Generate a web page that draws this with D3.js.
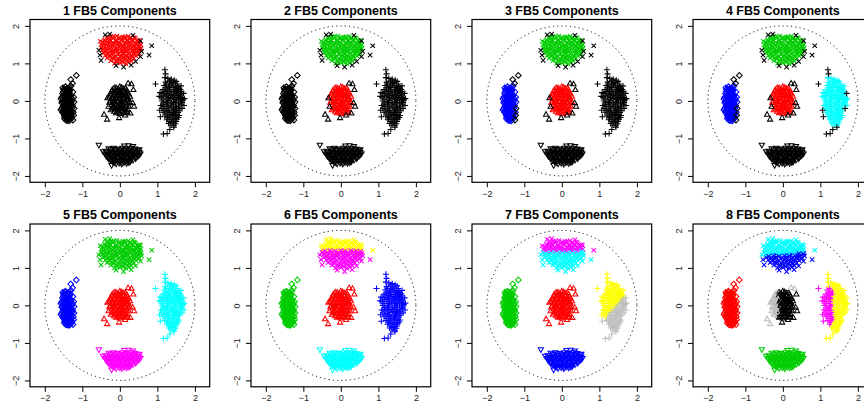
<!DOCTYPE html>
<html><head><meta charset="utf-8">
<script src="https://cdn.jsdelivr.net/npm/d3@7"></script>
<style>
html,body{margin:0;padding:0;background:#fff;}
svg{display:block;}
text{font-family:"Liberation Sans",Arial,Helvetica,sans-serif;}
</style></head>
<body><svg id="chart" width="864" height="411"></svg>
<script>
// ---------------- data ----------------
const panelTitles = ["1 FB5 Components","2 FB5 Components","3 FB5 Components","4 FB5 Components",
                     "5 FB5 Components","6 FB5 Components","7 FB5 Components","8 FB5 Components"];
const xTicks = [-2,-1,0,1,2];
const yTicks = [-2,-1,0,1,2];

// cluster order: left (diamond), center (triangle), top (x), right (+), bottom (inverted triangle)
const leftCoreA = [
[-1.52,0.35],[-1.45,0.38],[-1.38,0.33],[-1.48,0.28],[-1.40,0.25],[-1.33,0.27],[-1.53,0.20],[-1.45,0.18],[-1.37,0.20],[-1.30,0.15],
[-1.55,0.10],[-1.47,0.08],[-1.40,0.12],[-1.33,0.06],[-1.50,0.02],[-1.42,0.00],[-1.35,-0.02],[-1.28,0.00],[-1.55,-0.05],[-1.46,-0.08],
[-1.39,-0.06],[-1.31,-0.10],[-1.52,-0.15],[-1.43,-0.16],[-1.36,-0.14],[-1.27,-0.18],[-1.49,-0.22],[-1.41,-0.25],[-1.33,-0.23],[-1.53,-0.30],
[-1.45,-0.32],[-1.37,-0.30],[-1.29,-0.33],[-1.48,-0.38],[-1.40,-0.40],[-1.32,-0.39],[-1.44,-0.46],[-1.36,-0.48],[-1.28,-0.45],[-1.40,-0.52],
[-1.50,0.30],[-1.42,0.30],[-1.35,0.36],[-1.47,-0.42],[-1.34,-0.02],[-1.44,0.06],[-1.38,-0.20],[-1.50,-0.08],[-1.30,0.10]
];
const leftCoreB = [
[-1.49,0.32],[-1.41,0.34],[-1.34,0.31],[-1.51,0.24],[-1.43,0.22],[-1.35,0.23],[-1.50,0.15],[-1.41,0.16],[-1.33,0.14],[-1.27,0.05],
[-1.52,0.06],[-1.44,0.03],[-1.37,0.08],[-1.53,-0.02],[-1.45,-0.03],[-1.38,0.02],[-1.30,-0.05],[-1.50,-0.11],[-1.42,-0.11],[-1.34,-0.07],
[-1.26,-0.12],[-1.55,-0.20],[-1.46,-0.19],[-1.38,-0.17],[-1.30,-0.16],[-1.51,-0.26],[-1.44,-0.27],[-1.36,-0.25],[-1.29,-0.27],[-1.50,-0.34],
[-1.41,-0.35],[-1.33,-0.34],[-1.45,-0.40],[-1.37,-0.43],[-1.29,-0.40],[-1.48,-0.47],[-1.40,-0.46],[-1.32,-0.50],[-1.43,-0.52],[-1.35,-0.53],
[-1.23,0.10],[-1.22,-0.03],[-1.25,0.24],[-1.24,-0.30],[-1.57,0.05],[-1.57,-0.24],[-1.30,0.40]
];
const leftOut = [[-1.31,0.57],[-1.16,0.68],[-1.26,0.47],[-1.22,-0.20],[-1.23,-0.38],[-1.25,-0.51]];

const centerCoreA = [
[-0.20,0.30],[-0.10,0.35],[0.00,0.38],[0.10,0.33],[0.18,0.30],[-0.25,0.20],[-0.15,0.22],[-0.05,0.25],[0.05,0.20],[0.15,0.23],
[0.24,0.18],[-0.28,0.10],[-0.18,0.12],[-0.08,0.10],[0.02,0.13],[0.12,0.10],[0.22,0.08],[-0.25,0.00],[-0.15,0.02],[-0.05,-0.02],
[0.05,0.03],[0.15,0.00],[0.26,-0.02],[-0.22,-0.10],[-0.12,-0.08],[-0.02,-0.12],[0.08,-0.08],[0.18,-0.12],[-0.20,-0.20],[-0.10,-0.22],
[0.00,-0.18],[0.10,-0.20],[0.20,-0.22],[-0.15,-0.28],[-0.05,-0.30],[0.05,-0.27],[0.14,-0.30],[0.00,-0.05],[-0.10,0.05],[0.10,0.15],
[0.00,0.28],[-0.20,-0.05],[0.20,0.03],[0.06,-0.14],[-0.06,0.18]
];
const centerCoreB = [
[-0.15,0.35],[-0.05,0.32],[0.05,0.36],[0.15,0.34],[-0.22,0.25],[-0.10,0.28],[0.00,0.22],[0.10,0.26],[0.20,0.24],
[-0.24,0.15],[-0.13,0.17],[-0.03,0.15],[0.07,0.16],[0.17,0.14],[0.27,0.12],[-0.20,0.06],[-0.10,0.08],[0.00,0.06],[0.10,0.05],[0.20,0.10],
[-0.28,-0.04],[-0.16,-0.03],[-0.06,0.00],[0.04,-0.02],[0.13,-0.04],[0.23,-0.06],[-0.18,-0.14],[-0.07,-0.15],[0.03,-0.10],[0.13,-0.15],[0.24,-0.15],
[-0.24,-0.24],[-0.14,-0.18],[-0.04,-0.24],[0.06,-0.22],[0.16,-0.25],[-0.10,-0.32],[0.00,-0.34],[0.10,-0.32],[0.20,-0.30]
];
const centerOut = [[-0.42,-0.36],[-0.34,-0.49],[-0.02,-0.45],[0.22,0.47],[0.31,0.45],[0.36,0.30],[0.38,-0.15],[0.34,-0.05],
[-0.33,0.08],[-0.30,-0.15],[0.28,-0.33],[0.14,-0.38]];

const topCoreA = [
[-0.30,1.70],[-0.16,1.72],[0.01,1.69],[0.14,1.71],[0.29,1.68],
[-0.41,1.63],[-0.26,1.64],[-0.11,1.62],[0.06,1.65],[0.19,1.62],[0.34,1.64],[0.46,1.61],
[-0.46,1.56],[-0.31,1.57],[-0.19,1.55],[-0.02,1.57],[0.13,1.55],[0.26,1.57],[0.41,1.55],[0.52,1.54],
[-0.49,1.49],[-0.34,1.50],[-0.21,1.48],[-0.05,1.50],[0.09,1.48],[0.23,1.50],[0.37,1.48],[0.50,1.47],
[-0.50,1.42],[-0.36,1.41],[-0.24,1.43],[-0.08,1.41],[0.06,1.43],[0.18,1.41],[0.34,1.43],[0.46,1.41],[0.56,1.40],
[-0.47,1.35],[-0.35,1.36],[-0.19,1.34],[-0.07,1.36],[0.09,1.34],[0.21,1.36],[0.37,1.34],[0.49,1.35],
[-0.44,1.28],[-0.30,1.27],[-0.18,1.29],[-0.02,1.27],[0.10,1.29],[0.26,1.27],[0.38,1.29],[0.51,1.27],
[-0.39,1.21],[-0.27,1.22],[-0.11,1.20],[0.03,1.22],[0.15,1.20],[0.31,1.22],[0.43,1.20],
[-0.34,1.14],[-0.21,1.15],[-0.04,1.13],[0.09,1.15],[0.26,1.13],[0.37,1.14],
[-0.24,1.07],[-0.09,1.08],[0.06,1.06],[0.19,1.08],[0.31,1.06],
[-0.14,1.00],[0.01,1.01],[0.16,0.99]
];
const topCoreB = [
[-0.23,1.71],[-0.08,1.73],[0.08,1.70],[0.22,1.72],[0.38,1.69],
[-0.34,1.66],[-0.18,1.67],[-0.03,1.66],[0.12,1.67],[0.27,1.66],[0.41,1.67],[0.52,1.62],
[-0.52,1.59],[-0.38,1.60],[-0.25,1.60],[-0.10,1.59],[0.05,1.61],[0.20,1.59],[0.33,1.60],[0.47,1.58],
[-0.42,1.52],[-0.27,1.53],[-0.13,1.53],[0.02,1.52],[0.16,1.53],[0.30,1.52],[0.44,1.51],[0.56,1.50],
[-0.43,1.45],[-0.29,1.46],[-0.15,1.45],[0.00,1.46],[0.12,1.45],[0.27,1.46],[0.41,1.45],[0.53,1.44],
[-0.43,1.38],[-0.28,1.39],[-0.13,1.38],[0.02,1.39],[0.15,1.38],[0.29,1.39],[0.43,1.38],[0.55,1.37],
[-0.38,1.31],[-0.25,1.32],[-0.10,1.31],[0.04,1.32],[0.18,1.31],[0.32,1.32],[0.45,1.31],
[-0.34,1.24],[-0.20,1.25],[-0.05,1.24],[0.09,1.25],[0.23,1.24],[0.37,1.25],[0.49,1.23],
[-0.28,1.18],[-0.15,1.17],[0.00,1.18],[0.12,1.17],[0.22,1.17],[0.34,1.18],
[-0.17,1.11],[-0.02,1.10],[0.13,1.11],[0.27,1.10],
[-0.06,1.04],[0.08,1.03],[0.24,1.02]
];
const topOut = [[0.85,1.47],[0.78,1.22],[-0.56,1.35],[-0.53,1.22],[-0.50,1.08],[-0.39,1.76],[-0.27,1.78],[0.35,1.75],
[0.55,1.60],[0.58,1.32],[0.55,1.18],[0.30,0.95],[0.10,0.90],[-0.10,0.94],[0.42,1.05]];

const rightCoreA = [
[1.28,0.60],[1.37,0.58],
[1.22,0.50],[1.33,0.51],[1.42,0.49],[1.50,0.52],
[1.18,0.41],[1.29,0.39],[1.37,0.42],[1.48,0.40],[1.55,0.38],
[1.15,0.30],[1.26,0.31],[1.34,0.29],[1.46,0.31],[1.54,0.28],[1.61,0.30],
[1.12,0.20],[1.23,0.21],[1.31,0.19],[1.43,0.21],[1.51,0.19],[1.60,0.21],
[1.10,0.10],[1.21,0.11],[1.30,0.09],[1.41,0.11],[1.49,0.09],[1.60,0.11],[1.66,0.09],
[1.12,0.00],[1.23,-0.01],[1.31,0.01],[1.43,-0.01],[1.51,0.01],[1.62,-0.01],[1.68,0.02],
[1.15,-0.10],[1.24,-0.09],[1.36,-0.11],[1.44,-0.09],[1.56,-0.11],[1.64,-0.09],
[1.12,-0.20],[1.23,-0.21],[1.31,-0.19],[1.43,-0.21],[1.51,-0.19],[1.60,-0.21],
[1.15,-0.30],[1.26,-0.29],[1.34,-0.31],[1.46,-0.29],[1.55,-0.31],
[1.20,-0.40],[1.29,-0.41],[1.41,-0.39],[1.49,-0.41],[1.58,-0.39],
[1.25,-0.50],[1.36,-0.49],[1.44,-0.51],[1.52,-0.49],
[1.30,-0.60],[1.39,-0.59],[1.48,-0.61]
];
const rightCoreB = [
[1.33,0.55],[1.45,0.55],[1.25,0.45],[1.38,0.46],[1.53,0.45],
[1.22,0.35],[1.32,0.35],[1.42,0.36],[1.51,0.34],[1.58,0.34],
[1.18,0.25],[1.27,0.26],[1.37,0.24],[1.47,0.25],[1.56,0.24],[1.64,0.25],
[1.16,0.15],[1.26,0.16],[1.36,0.14],[1.45,0.16],[1.55,0.14],[1.63,0.16],
[1.15,0.05],[1.26,0.05],[1.36,0.06],[1.46,0.04],[1.56,0.06],[1.65,0.04],
[1.17,-0.05],[1.27,-0.04],[1.37,-0.06],[1.47,-0.04],[1.57,-0.06],[1.66,-0.04],
[1.18,-0.15],[1.28,-0.14],[1.39,-0.16],[1.48,-0.14],[1.58,-0.16],
[1.18,-0.25],[1.29,-0.25],[1.39,-0.26],[1.49,-0.24],[1.58,-0.26],
[1.23,-0.35],[1.33,-0.36],[1.43,-0.34],[1.52,-0.36],
[1.27,-0.45],[1.39,-0.45],[1.48,-0.46],[1.56,-0.44],
[1.33,-0.55],[1.42,-0.56],[1.50,-0.55],[1.36,-0.65],[1.44,-0.66],
[1.72,0.06],[1.71,-0.12],[1.05,0.12],[1.07,0.22],[1.09,-0.12],[1.63,0.40],[1.20,0.62]
];
const rightOut = [[0.95,0.45],[1.20,0.83],[1.22,0.72],[1.16,-0.88],[1.26,-0.87],[1.33,-0.76],[1.44,-0.70],
[1.08,-0.42],[1.06,-0.25],[1.70,0.20],[1.66,-0.20]];

const bottomCoreA = [
[-0.30,-1.27],[-0.17,-1.26],[-0.06,-1.28],[0.07,-1.26],[0.18,-1.28],[0.31,-1.26],[0.41,-1.28],
[-0.38,-1.34],[-0.25,-1.35],[-0.14,-1.33],[-0.01,-1.35],[0.10,-1.33],[0.23,-1.35],[0.34,-1.33],[0.47,-1.35],
[-0.40,-1.41],[-0.29,-1.42],[-0.15,-1.40],[-0.04,-1.42],[0.09,-1.40],[0.20,-1.42],[0.33,-1.40],[0.44,-1.42],[0.55,-1.41],
[-0.36,-1.48],[-0.23,-1.49],[-0.12,-1.47],[0.01,-1.49],[0.12,-1.47],[0.25,-1.49],[0.36,-1.47],[0.48,-1.48],
[-0.30,-1.55],[-0.19,-1.56],[-0.06,-1.54],[0.05,-1.56],[0.18,-1.54],[0.29,-1.56],[0.42,-1.54],
[-0.20,-1.62],[-0.07,-1.61],[0.04,-1.63],[0.17,-1.61],[0.28,-1.62],
[-0.10,-1.68],[0.05,-1.69],[0.18,-1.67]
];
const bottomCoreB = [
[-0.24,-1.30],[-0.12,-1.29],[0.01,-1.31],[0.13,-1.30],[0.25,-1.31],[0.37,-1.30],[0.48,-1.31],
[-0.34,-1.38],[-0.20,-1.37],[-0.08,-1.38],[0.04,-1.37],[0.16,-1.38],[0.28,-1.37],[0.40,-1.38],[0.52,-1.37],
[-0.33,-1.45],[-0.21,-1.44],[-0.09,-1.45],[0.03,-1.44],[0.15,-1.45],[0.27,-1.44],[0.39,-1.45],[0.51,-1.45],
[-0.30,-1.52],[-0.18,-1.51],[-0.05,-1.52],[0.07,-1.51],[0.19,-1.52],[0.31,-1.51],[0.43,-1.51],
[-0.25,-1.59],[-0.13,-1.58],[-0.01,-1.59],[0.11,-1.58],[0.23,-1.59],[0.35,-1.58],
[-0.15,-1.65],[-0.02,-1.66],[0.11,-1.65],[0.24,-1.65]
];
const bottomOut = [[-0.56,-1.18],[0.12,-1.20],[0.23,-1.19],[0.35,-1.21],[0.52,-1.30],[-0.22,-1.72],[-0.45,-1.35]];

// colour of each cluster per panel ("a|b" = split into two components)
const panelColors = [
 ["black","black","red","black","black"],
 ["black","red","green3","black","black"],
 ["blue","red","green3","black","black"],
 ["blue","red","green3","cyan","black"],
 ["blue","red","green3","cyan","magenta"],
 ["green3","red","yellow|magenta","blue","cyan"],
 ["green3","red","magenta|cyan","yellow|gray","blue"],
 ["red","gray|black","cyan|blue","magenta|yellow","green3"]
];

// ---------------- drawing ----------------
const palette = {black:"#000000",red:"#FF0000",green3:"#00CD00",blue:"#0000FF",cyan:"#00FFFF",
                 magenta:"#FF00FF",yellow:"#FFFF00",gray:"#BEBEBE"};

// which side of a split a point falls on (true -> first colour)
function splitTest(panel, cluster, p){
  const [x,y] = p;
  if (panel===5 && cluster===2) return y > 1.46;
  if (panel===6 && cluster===2) return y > 1.44;
  if (panel===6 && cluster===3) return y > x - 1.45;
  if (panel===7 && cluster===1) return (x < -0.1) || (y > 0.3 && x > 0.15);
  if (panel===7 && cluster===2) return y > 1.36 + 0.1*x;
  if (panel===7 && cluster===3) return (x < 1.35 && y > -0.55 && y < 0.5);
  return true;
}

const S = 2.6;
const shapes = [
  `M0,${-S*1.1}L${S*1.1},0L0,${S*1.1}L${-S*1.1},0Z`,                 // diamond
  `M0,${-S*1.05}L${S*1.0},${S*0.7}L${-S*1.0},${S*0.7}Z`,             // triangle up
  `M${-S*0.85},${-S*0.85}L${S*0.85},${S*0.85}M${-S*0.85},${S*0.85}L${S*0.85},${-S*0.85}`, // x
  `M${-S*1.15},0L${S*1.15},0M0,${-S*1.15}L0,${S*1.15}`,              // plus
  `M0,${S*1.05}L${S*1.0},${-S*0.7}L${-S*1.0},${-S*0.7}Z`             // triangle down
];
const cores = [leftCoreA.concat(leftCoreB), centerCoreA.concat(centerCoreB), topCoreA.concat(topCoreB),
               rightCoreA.concat(rightCoreB), bottomCoreA.concat(bottomCoreB)];
const outs  = [leftOut, centerOut, topOut, rightOut, bottomOut];

const svg = d3.select("#chart");
const colX0 = 30, colStep = 221, rowY0 = 19.5, rowStep = 204.5, boxW = 179.7, boxH = 162.8;

panelTitles.forEach((title, k) => {
  const c = k % 4, r = Math.floor(k / 4);
  const L = colX0 + c*colStep, T = rowY0 + r*rowStep;
  const x = d3.scaleLinear().domain([-2.395, 2.395]).range([L, L+boxW]);
  const y = d3.scaleLinear().domain([-2.17, 2.17]).range([T+boxH, T]);
  const g = svg.append("g");

  // dotted circle of radius 2
  g.append("ellipse").attr("cx", x(0)).attr("cy", y(0))
    .attr("rx", x(2)-x(0)).attr("ry", y(0)-y(2))
    .attr("fill","none").attr("stroke","#000").attr("stroke-width",1)
    .attr("stroke-dasharray","1.1 3.2");

  // points
  for (let ci = 0; ci < 5; ci++) {
    const spec = panelColors[k][ci].split("|");
    const colorOf = (p, isOut) => {
      if (isOut && k < 4) return palette.black;
      if (spec.length === 1) return palette[spec[0]];
      return palette[splitTest(k, ci, p) ? spec[0] : spec[1]];
    };
    const pts = cores[ci].map(p => ({p, out:false})).concat(outs[ci].map(p => ({p, out:true})));
    g.append("g").selectAll("path").data(pts).join("path")
      .attr("d", shapes[ci])
      .attr("transform", d => `translate(${x(d.p[0])},${y(d.p[1])})`)
      .attr("fill","none")
      .attr("stroke", d => colorOf(d.p, d.out))
      .attr("stroke-width", 1.05);
  }

  // box
  g.append("rect").attr("x", L).attr("y", T).attr("width", boxW).attr("height", boxH)
    .attr("fill","none").attr("stroke","#000").attr("stroke-width",1.2);

  // axes
  const ax = g.append("g").attr("transform", `translate(0,${T+boxH})`)
    .call(d3.axisBottom(x).tickValues(xTicks).tickSize(5).tickPadding(3).tickFormat(d3.format("d")));
  ax.select(".domain").remove();
  ax.selectAll("text").attr("font-size", 9).attr("font-family","Liberation Sans, Arial, sans-serif").attr("fill","#222");
  ax.selectAll("line").attr("stroke","#000");

  const ay = g.append("g").attr("transform", `translate(${L},0)`)
    .call(d3.axisLeft(y).tickValues(yTicks).tickSize(5).tickPadding(3).tickFormat(d3.format("d")));
  ay.select(".domain").remove();
  ay.selectAll("line").attr("stroke","#000");
  ay.selectAll("text")
    .attr("font-size", 9).attr("font-family","Liberation Sans, Arial, sans-serif").attr("fill","#222")
    .attr("x", null).attr("dy", null)
    .attr("text-anchor","middle")
    .attr("transform", "translate(-11,0) rotate(-90)")
    .attr("y", 0);

  // title
  g.append("text").attr("x", L + boxW/2).attr("y", T - 5)
    .attr("text-anchor","middle").attr("font-weight","bold").attr("font-size", 12.5)
    .text(title);
});
</script></body></html>
